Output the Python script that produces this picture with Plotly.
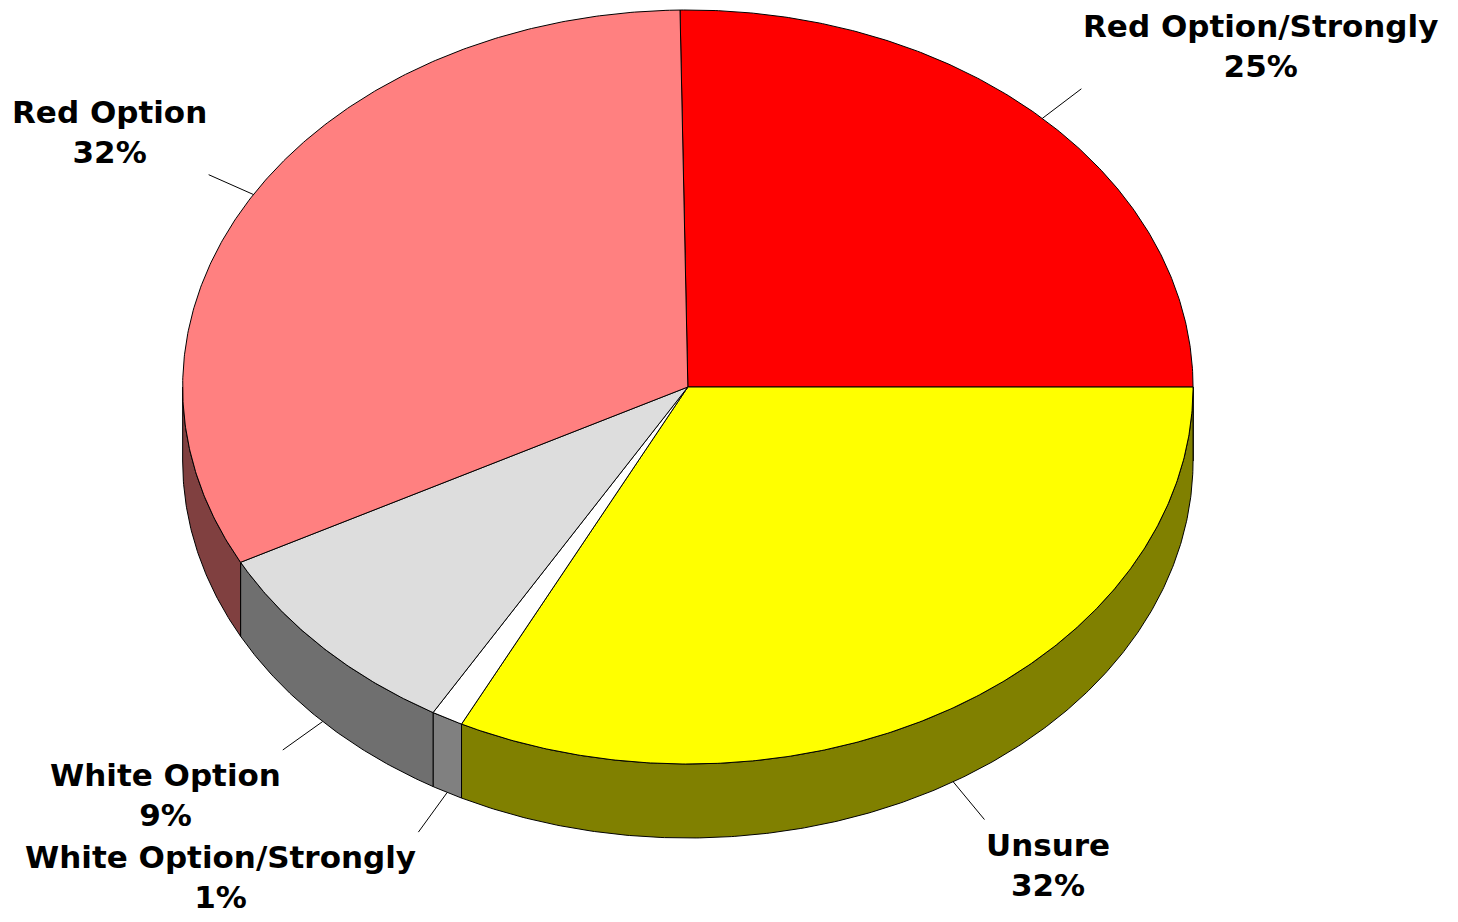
import numpy as np
import plotly.graph_objects as go

# ---- data ----
categories = ["Red Option/Strongly", "Unsure", "White Option/Strongly", "White Option", "Red Option"]
values = [25.25, 32.39, 1.02, 8.89, 32.45]
top_colors = ["#FF0000", "#FFFF00", "#FFFFFF", "#DDDDDD", "#FF8080"]
side_colors = ["#800000", "#808000", "#808080", "#6F6F6F", "#804040"]

# ---- geometry / style ----
W, H = 1458, 922
OFF = 8                 # default page body margin
CX, CY, RX, RY, DEPTH = 687.85, 387.0, 505.2, 377.0, 74.0
START = 90.89          # degrees, slices go clockwise
LEADER = 49.0
FONT = dict(family="DejaVu Sans", size=31, color="black", weight="bold")


def pts(a0, a1, dz=0.0):
    n = max(2, int(abs(a1 - a0) / 0.4) + 2)
    t = np.radians(np.linspace(a0, a1, n))
    return CX + RX * np.cos(t), CY - RY * np.sin(t) + dz


total = float(sum(values))
edges = [START]
for v in values:
    edges.append(edges[-1] - 360.0 * v / total)

fig = go.Figure()

# sides (front half only: angles between -180 and 0)
for i, v in enumerate(values):
    a0, a1 = edges[i], edges[i + 1]
    s0, s1 = min(a0, 0.0), max(a1, -180.0)
    if s0 <= s1:
        continue
    xt, yt = pts(s0, s1)
    xb, yb = pts(s1, s0, DEPTH)
    fig.add_trace(go.Scatter(
        x=np.concatenate([xt, xb, xt[:1]]), y=np.concatenate([yt, yb, yt[:1]]),
        mode="lines", fill="toself", fillcolor=side_colors[i],
        line=dict(color="black", width=1), hoverinfo="skip", showlegend=False))

# top faces
for i, v in enumerate(values):
    a0, a1 = edges[i], edges[i + 1]
    xa, ya = pts(a0, a1)
    fig.add_trace(go.Scatter(
        x=np.concatenate([[CX], xa, [CX]]), y=np.concatenate([[CY], ya, [CY]]),
        mode="lines", fill="toself", fillcolor=top_colors[i],
        line=dict(color="black", width=1), hoverinfo="skip", showlegend=False))

# leaders and labels
lx, ly = [], []
for i, v in enumerate(values):
    mid = np.radians((edges[i] + edges[i + 1]) / 2.0)
    c, s = np.cos(mid), np.sin(mid)
    dz = DEPTH if s < 0 else 0.0
    x0 = CX + RX * c
    y0 = CY - RY * s + dz
    dx, dy = RX * c, -RY * s
    n = np.hypot(dx, dy)
    x1 = x0 + LEADER * dx / n
    y1 = y0 + LEADER * dy / n
    lx += [x0, x1, None]
    ly += [y0, y1, None]
    pct = int(round(100.0 * v / total))
    fig.add_annotation(
        x=x1, y=y1, xref="x", yref="y", showarrow=False,
        text=f"{categories[i]}<br>{pct}%", align="center",
        xanchor="left" if c > 0 else "right",
        yanchor="bottom" if s > 0 else "top",
        yshift=3 if s > 0 else -5,
        font=FONT)

fig.add_trace(go.Scatter(x=lx, y=ly, mode="lines",
                         line=dict(color="black", width=1),
                         hoverinfo="skip", showlegend=False))

fig.update_layout(
    width=W, height=H, margin=dict(l=0, r=0, t=0, b=0),
    paper_bgcolor="white", plot_bgcolor="white",
    xaxis=dict(range=[OFF, W + OFF], visible=False, fixedrange=True),
    yaxis=dict(range=[H + OFF, OFF], visible=False, fixedrange=True),
    showlegend=False, hovermode=False)

fig.write_html("out.html")
